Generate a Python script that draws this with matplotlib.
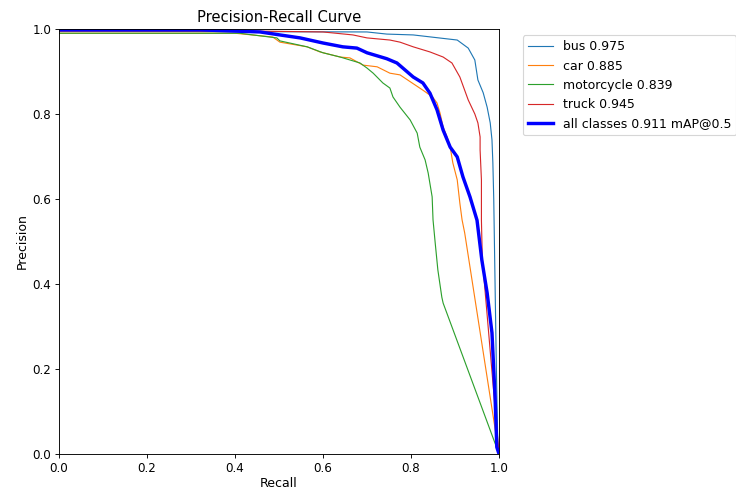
import matplotlib
matplotlib.use("Agg")
import matplotlib.pyplot as plt
import numpy as np

# per-class PR curves (recall, precision)
bus_r = [0, 0.70, 0.745, 0.805, 0.905, 0.93, 0.945, 0.952, 0.964, 0.973, 0.98, 0.984, 0.986, 0.988, 0.991, 0.994, 0.997, 1.0]
bus_p = [0.995, 0.993, 0.988, 0.986, 0.974, 0.955, 0.927, 0.88, 0.85, 0.816, 0.779, 0.739, 0.685, 0.60, 0.40, 0.20, 0.03, 0.0]

car_r = [0, 0.40, 0.486, 0.502, 0.564, 0.593, 0.639, 0.661, 0.691, 0.723, 0.752, 0.775, 0.827, 0.849, 0.859,
         0.866, 0.873, 0.882, 0.889, 0.895, 0.905, 0.911, 0.916, 0.922, 1.0]
car_p = [0.99, 0.99, 0.981, 0.969, 0.958, 0.946, 0.934, 0.932, 0.915, 0.911, 0.896, 0.892, 0.856, 0.84, 0.826,
         0.802, 0.769, 0.746, 0.722, 0.685, 0.645, 0.59, 0.551, 0.52, 0.0]

moto_r = [0, 0.41, 0.495, 0.502, 0.564, 0.60, 0.639, 0.684, 0.70, 0.714, 0.736, 0.752, 0.759, 0.775, 0.798,
          0.814, 0.82, 0.832, 0.839, 0.848, 0.85, 0.855, 0.861, 0.87, 0.873, 1.0]
moto_p = [0.99, 0.99, 0.979, 0.972, 0.958, 0.944, 0.934, 0.92, 0.908, 0.896, 0.873, 0.861, 0.84, 0.816, 0.786,
          0.755, 0.722, 0.692, 0.661, 0.605, 0.551, 0.496, 0.433, 0.369, 0.355, 0.0]

truck_r = [0, 0.45, 0.60, 0.668, 0.70, 0.752, 0.775, 0.805, 0.843, 0.873, 0.893, 0.911, 0.93, 0.945, 0.952,
           0.957, 0.957, 0.96, 0.96, 0.962, 1.0]
truck_p = [0.995, 0.995, 0.993, 0.986, 0.979, 0.974, 0.969, 0.958, 0.946, 0.934, 0.92, 0.887, 0.833, 0.80, 0.779,
           0.746, 0.715, 0.645, 0.55, 0.46, 0.0]

all_r = [0, 0.32, 0.457, 0.502, 0.548, 0.60, 0.645, 0.677, 0.70, 0.745, 0.768, 0.805, 0.827, 0.843, 0.859,
         0.873, 0.889, 0.905, 0.918, 0.934, 0.95, 0.961, 0.973, 0.984, 0.991, 0.995, 1.0]
all_p = [0.998, 0.998, 0.993, 0.986, 0.979, 0.967, 0.958, 0.955, 0.944, 0.930, 0.92, 0.887, 0.873, 0.849, 0.81,
         0.762, 0.722, 0.699, 0.652, 0.605, 0.55, 0.456, 0.379, 0.285, 0.134, 0.016, 0.0]

names = ["bus", "car", "motorcycle", "truck"]
ap = [0.975, 0.885, 0.839, 0.945]
map50 = 0.911

fig, ax = plt.subplots(1, 1, figsize=(9.0, 5.992), dpi=81.78)
fig.subplots_adjust(left=0.0802, right=0.678, top=0.9408, bottom=0.0735)

curves = [(bus_r, bus_p), (car_r, car_p), (moto_r, moto_p), (truck_r, truck_p)]
for (r, p), n, a in zip(curves, names, ap):
    ax.plot(r, p, linewidth=1, label="%s %.3f" % (n, a))

ax.plot(all_r, all_p, linewidth=3, color="blue", label="all classes %.3f mAP@0.5" % map50)

ax.set_xlabel("Recall", fontsize=11, labelpad=2)
ax.set_ylabel("Precision", fontsize=11, labelpad=3)
ax.tick_params(labelsize=10.5)
ax.set_xlim(0, 1)
ax.set_ylim(0, 1)
ax.legend(bbox_to_anchor=(1.04, 1), loc="upper left", fontsize=11)
ax.set_title("Precision-Recall Curve", fontsize=13)
fig.savefig("out.png", dpi=81.78)
